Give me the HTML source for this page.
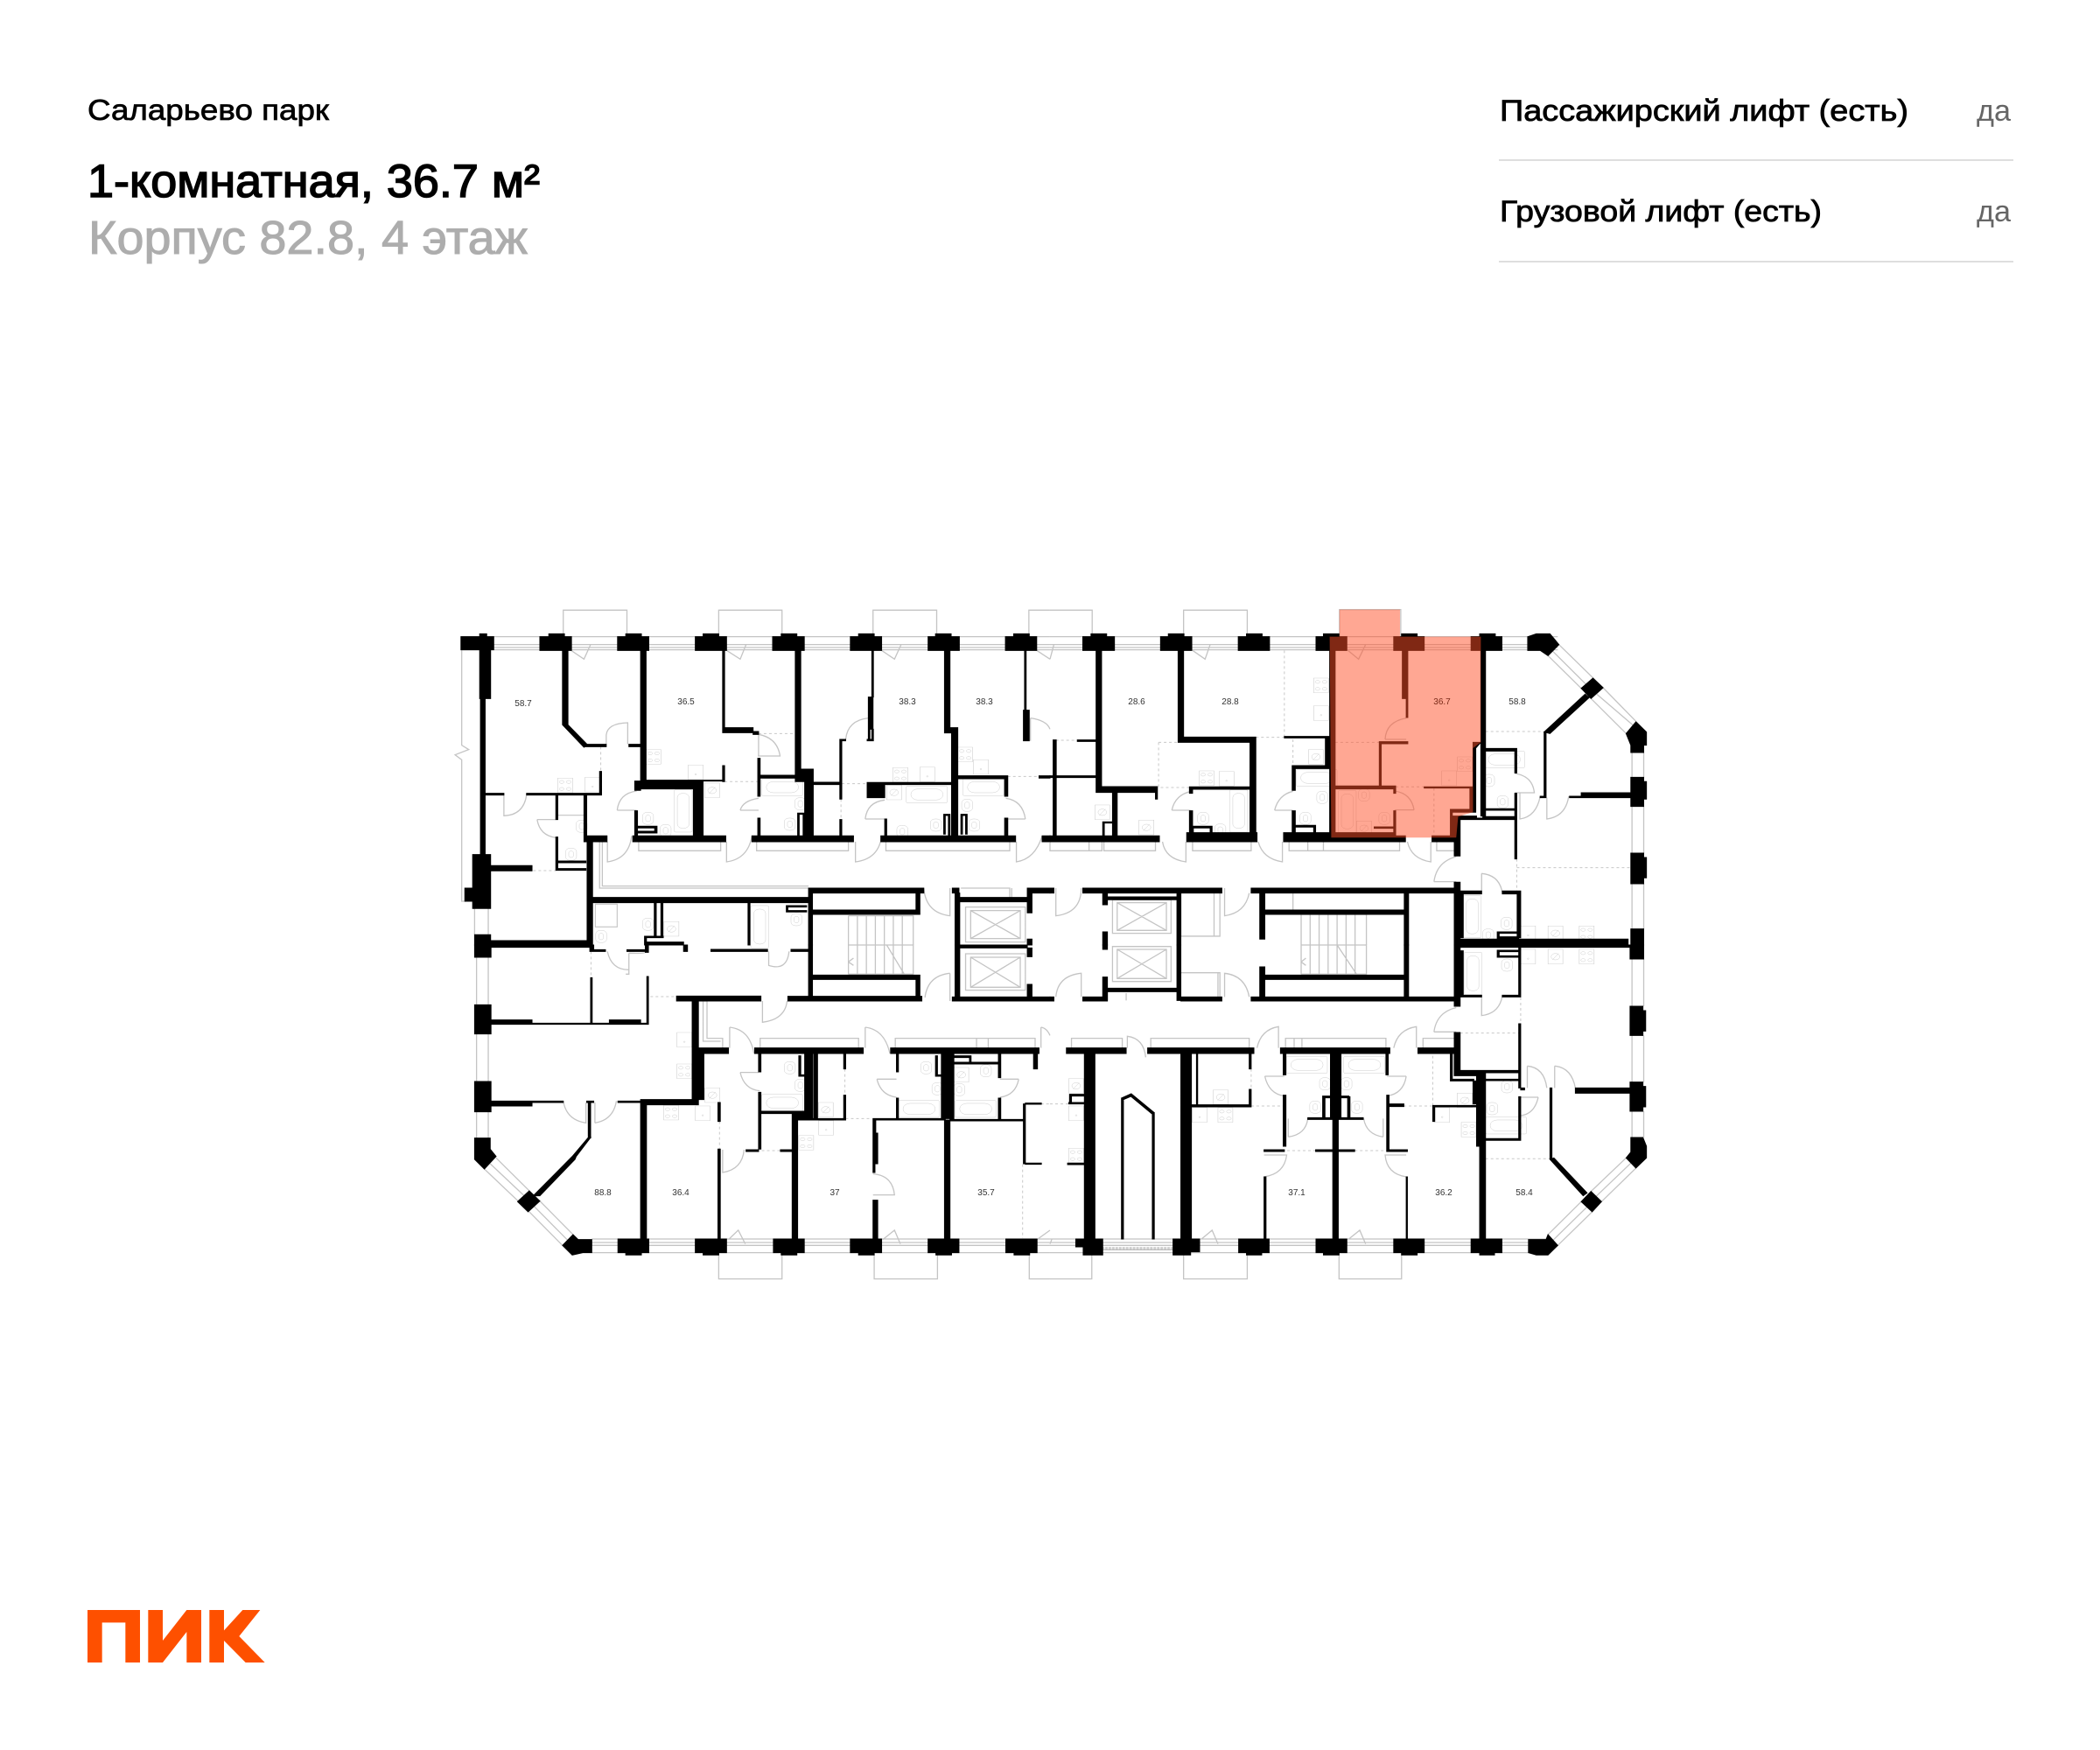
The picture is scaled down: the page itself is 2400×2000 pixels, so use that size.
<!DOCTYPE html>
<html lang="ru"><head><meta charset="utf-8"><title>Саларьево парк</title>
<style>
html,body{margin:0;padding:0;background:#fff}
svg{display:block}
.t{fill:none;stroke:#c4c4c4;stroke-width:1.3;vector-effect:non-scaling-stroke}
.t *{fill:none;stroke:#c4c4c4;stroke-width:1.1;vector-effect:non-scaling-stroke}
.d{fill:none;stroke:#c8c8c8;stroke-width:1;stroke-dasharray:3 3;vector-effect:non-scaling-stroke}
.w{fill:#000;stroke:#000;stroke-width:1;vector-effect:non-scaling-stroke}
.l{font:10px "Liberation Sans",sans-serif;fill:#333;text-anchor:middle}
</style></head><body>
<svg width="2400" height="2000" viewBox="0 0 2400 2000" xmlns="http://www.w3.org/2000/svg">
<defs>
<g id="st"><rect width="38" height="50"/><ellipse cx="10" cy="13" rx="6" ry="5"/><ellipse cx="28" cy="13" rx="6" ry="5"/><ellipse cx="10" cy="37" rx="6" ry="5"/><ellipse cx="28" cy="37" rx="6" ry="5"/></g>
<g id="sq"><rect width="38" height="50"/><circle cx="19" cy="32" r="2"/></g>
<g id="bh"><rect width="105" height="58" rx="4"/><rect x="12" y="10" width="82" height="38" rx="18"/></g>
<g id="bv"><rect width="46" height="145" rx="4"/><rect x="8" y="12" width="30" height="120" rx="14"/></g>
<g id="wc"><rect width="28" height="42" rx="12"/><rect x="8" y="10" width="12" height="22" rx="6"/></g>
<g id="n"><rect width="38" height="50"/><circle cx="19" cy="25" r="11"/><path d="M11 36L27 14"/></g>
</defs>
<rect width="2400" height="2000" fill="#fff"/>

<text x="100" y="137" font-family="Liberation Sans,sans-serif" font-size="33" fill="#000" stroke="#000" stroke-width=".7" textLength="276" lengthAdjust="spacingAndGlyphs">Саларьево парк</text>
<text x="100" y="225" font-family="Liberation Sans,sans-serif" font-size="53" fill="#000" stroke="#000" stroke-width="1.5" textLength="517" lengthAdjust="spacingAndGlyphs">1-комнатная, 36.7 м²</text>
<text x="101" y="290" font-family="Liberation Sans,sans-serif" font-size="54" fill="#adadad" stroke="#adadad" stroke-width="1" textLength="502" lengthAdjust="spacingAndGlyphs">Корпус 82.8, 4 этаж</text>
<text x="1714" y="138" font-family="Liberation Sans,sans-serif" font-size="34" fill="#000" stroke="#000" stroke-width=".8" textLength="467" lengthAdjust="spacingAndGlyphs">Пассажирский лифт (есть)</text>
<text x="1714" y="253" font-family="Liberation Sans,sans-serif" font-size="34" fill="#000" stroke="#000" stroke-width=".8" textLength="368" lengthAdjust="spacingAndGlyphs">Грузовой лифт (есть)</text>
<text x="2259" y="138" font-family="Liberation Sans,sans-serif" font-size="34" fill="#666" textLength="39" lengthAdjust="spacingAndGlyphs">да</text>
<text x="2259" y="253" font-family="Liberation Sans,sans-serif" font-size="34" fill="#666" textLength="39" lengthAdjust="spacingAndGlyphs">да</text>
<rect x="1713" y="182" width="588" height="2" fill="#dedede"/>
<rect x="1713" y="298" width="588" height="2" fill="#dedede"/>

<g transform="translate(80 1820) scale(.3333)" fill="#fe5000">
<path d="M60 60H240V240H190V103H110V240H60z"/>
<path d="M268 60H318V165L400 60H450V240H400V135L318 240H268z"/>
<path d="M478 60H528V130L592 60H652L580 150L668 240H602L528 165V240H478z"/>
</g>

<!-- top-left -->
<g transform="translate(500 680) scale(.4464 .3333)">
<path class="t" d="M60 143H1568M60 170H1568M60 180H1568M60 188H1568M322 143V52H485V143M720 143V52H882V143M1115 143V52H1278V143M1514 143V52H1568M62 188V515L80 530 45 548 62 565V1050H72M95 1075V1165M130 1075V1165
M342 190L375 220 392 170M740 190L775 220 790 170M1137 190L1170 220 1187 170M1534 190L1568 220
M432 512V480Q435 440 487 438V512M170 686V757Q220 755 228 686M460 738H510M460 738Q465 680 510 672M775 738H822M775 738Q782 705 822 697M820 552H877Q870 490 822 478V552M1103 422Q1050 430 1045 495M1095 768H1145M1095 768Q1100 710 1145 703M1505 768H1455M1505 768Q1498 705 1455 697M1518 422V500M1518 422Q1560 430 1568 460M255 770H303M255 770Q262 825 303 832M435 846V915Q490 905 497 826M740 846V915Q795 905 805 826M1070 846V915Q1130 905 1137 826M1482 846V915Q1530 905 1548 826M1312 1005V1100Q1250 1090 1245 1005
M515 846V877H725V846M817 846V877H1052V846M1148 846V877H1465V846M415 846V1005H950M422 846V998H950
M1052 1100H1218V1200M1052 1100V1200M1075 1100V1200M1098 1100V1200M1121 1100V1200M1144 1100V1200M1167 1100V1200M1190 1100V1200
M1352 1070H1505V1190H1352ZM1365 1082H1492V1178H1365ZM1365 1082L1492 1178M1492 1082L1365 1178M1340 1005H1465V1037M1470 1005V1037"/>
<g class="t">
<use href="#st" x="534" y="530"/><use href="#st" x="308" y="628"/><use href="#st" x="1166" y="592"/><use href="#st" x="1332" y="522"/>
<use href="#sq" x="642" y="583"/><use href="#sq" x="378" y="625"/><use href="#sq" x="1235" y="590"/><use href="#sq" x="1372" y="565"/>
<use href="#bv" x="606" y="668"/><use href="#bh" x="830" y="630"/><use href="#bh" x="1345" y="630"/><use href="#bh" x="1200" y="655"/><use href="#bv" x="802" y="1065"/>
<use href="#wc" x="525" y="745"/><use href="#wc" x="328" y="868"/><use href="#wc" x="888" y="765"/><use href="#wc" x="915" y="695"/><use href="#wc" x="1262" y="768"/><use href="#wc" x="1360" y="768"/><use href="#wc" x="1342" y="700"/><use href="#wc" x="355" y="772"/><use href="#wc" x="1176" y="790"/><use href="#wc" x="570" y="787"/><use href="#wc" x="905" y="1092"/><use href="#wc" x="525" y="1108"/><use href="#wc" x="405" y="1150"/>
<use href="#n" x="684" y="645"/><use href="#n" x="1150" y="652"/><use href="#n" x="580" y="1120"/><rect x="305" y="685" width="72" height="70"/><rect x="404" y="1060" width="56" height="78"/>
</g>
<path class="d" d="M418 520V605M735 640H820M822 475H915M245 945H303M1035 647H1100M1033 700V770M1460 622H1540"/>
<path class="w" d="M60 143H144V188H60zM108 133H126V143H108zM262 143H343V190H262zM285 133H325V143H285zM461 143H541V190H461zM482 133H522V143H482zM660 143H740V190H660zM680 133H720V143H680zM858 143H939V190H858zM880 133H920V143H880zM1057 143H1137V190H1057zM1078 133H1118V143H1078zM1256 143H1336V190H1256zM1275 133H1315V143H1275zM1454 143H1534V190H1454zM1475 133H1515V143H1475z
M108 188H136V355H108zM110 355H122V890H110zM90 890H136V1075H90zM70 1005H95V1050H70zM95 1165H136V1200H95zM136 1185H385V1200H136z
M320 190H334V445L385 515 375 522 320 445zM375 512H432V520H375zM490 512H520V520H490zM520 190H534V640H520zM505 638H670V665H505zM505 658H520V670H505zM655 640H670V826H655zM672 640H680V826H672zM500 826H738V846H500zM505 740H512V826H505zM510 793H562V799H510zM510 810H562V816H510zM556 793H562V816H556z
M730 190H735V455H730zM730 455H808V472H730zM808 468H822V478H808zM916 190H930V600H916zM916 597H962V640H916zM940 597H962V826H940zM820 560H826V690H820zM820 618H940V628H820zM820 765H826V826H820zM805 826H1065V846H805zM922 748H926V826H922zM936 748H940V826H936zM922 748H940V752H922z
M730 585H735V640H730zM534 635H735V638H534zM962 642H1030V650H962zM1030 495H1035V700H1030zM1030 770H1035V826H1030zM1030 495H1045V500H1030zM1112 190H1116V350H1112zM1103 350H1115V460H1103zM1103 460H1107V500H1103zM1112 460H1116V500H1112zM1100 495H1116V500H1100zM1100 645H1145V695H1100zM1100 643H1320V650H1100zM1145 768H1150V826H1145zM1135 826H1480V846H1135z
M1298 190H1312V455H1298zM1298 455H1332V473H1298zM1316 473H1332V826H1316zM1332 620H1460V630H1332zM1452 620H1460V690H1452zM1452 765H1460V826H1452zM1340 752H1356V756H1340zM1340 752H1344V820H1340zM1352 752H1356V820H1352zM1296 752H1300V820H1296zM1308 752H1312V826H1308zM1296 752H1312V756H1296zM1503 190H1507V395H1503zM1500 395H1515V500H1500zM1540 620H1568V628H1540zM1548 826H1568V846H1548z
M122 680H170V686H122zM228 680H420V686H228zM415 605H420V680H415zM303 686H308V770H303zM303 830H308V940H303zM303 912H380V918H303zM303 938H380V944H303zM375 686H382V830H375zM375 826H434V846H375zM383 846H397V1200H383zM136 928H242V946H136z
M397 1037H950V1055H397zM950 1005H960V1200H950zM950 1005H1245V1022H950zM1225 1022H1235V1095H1225zM960 1080H1235V1095H960zM555 1055H560V1170H555zM572 1055H577V1170H572zM530 1170H578V1175H530zM530 1175H535V1200H530zM530 1190H630V1200H530zM625 1190H630V1200H625zM795 1055H800V1200H795zM893 1065H945V1070H893zM893 1082H945V1087H893zM893 1065H897V1087H893z
M1318 1005H1335V1022H1318zM1325 1022H1337V1200H1325zM1335 1037H1510V1052H1335zM1510 1020H1522V1090H1510zM1510 1005H1568V1022H1510zM1510 1180H1522V1200H1510z"/>
</g>

<!-- top-right -->
<g transform="translate(1200 680) scale(.4464 .3333)">
<path class="t" d="M0 143H1300M0 170H1300M0 180H1300M0 188H1300M0 52H108V143M342 143V52H505V143M741 143V50H898V143
M1303 170L1416 318M1275 208L1360 320M1285 190L1390 330M1416 318L1527 470M1385 355L1475 475M1400 340L1500 455M1490 540V625M1520 540V625M1490 725V885M1520 725V885M1490 990V1145M1520 990V1145
M365 190L397 220 410 170M763 190L790 220 808 170M0 220L10 170M858 495H912M858 495Q860 435 912 422M932 737H882M932 737Q925 680 882 672M312 738H360M312 738Q320 685 362 673M575 738H622M575 738Q585 685 622 673M288 846Q295 905 348 915V846M533 846Q545 905 595 915V846M915 846Q925 905 975 915V846M983 983H1040M983 983Q990 915 1040 897M1105 955V1025M1105 955Q1150 960 1158 1020M1190 612Q1235 620 1240 678H1190M1203 680V768Q1245 760 1255 690M1272 695V768Q1320 760 1328 690M15 1005V1100Q80 1090 80 1005M447 1005V1100Q500 1090 510 1022
M0 846V877H100V846M100 877H133V846M138 846V877H270V846M365 846V877H515V846M612 846V877H895V846M660 846V877M700 846V877M990 846V877H1035
M335 1022V1170H435V1022M420 1022V1170M622 1022V1080
M643 1095H810V1200M643 1095V1200M666 1095V1200M689 1095V1200M712 1095V1200M735 1095V1200M758 1095V1200M781 1095V1200M160 1045H310V1160H160ZM172 1055H298V1150H172ZM172 1055L298 1150M298 1055L172 1150"/>
<g class="t">
<use href="#st" x="675" y="285"/><use href="#sq" x="675" y="380"/><use href="#sq" x="433" y="605"/><use href="#st" x="382" y="603"/><use href="#sq" x="1003" y="603"/><use href="#st" x="1043" y="555"/>
<use href="#bv" x="460" y="668"/><use href="#bv" x="738" y="670"/><use href="#bh" x="630" y="598"/><use href="#bv" x="1058" y="1030"/><use href="#bh" x="1110" y="535"/>
<use href="#n" x="662" y="530"/><use href="#n" x="115" y="720"/><use href="#n" x="228" y="772"/><use href="#n" x="785" y="775"/><use href="#n" x="1275" y="1135"/>
<use href="#wc" x="378" y="745"/><use href="#wc" x="640" y="745"/><use href="#wc" x="842" y="745"/><use href="#wc" x="683" y="673"/><use href="#wc" x="1145" y="688"/><use href="#wc" x="1155" y="1105"/><use href="#wc" x="1110" y="615"/><use href="#wc" x="422" y="785"/><use href="#wc" x="790" y="665"/><use href="#wc" x="1108" y="1145"/>
<use href="#sq" x="1205" y="1135"/><use href="#st" x="1355" y="1135"/>
</g>
<path class="d" d="M15 498H70M600 190V485M278 505V660H357M278 505H328M527 488H600M622 495V585M730 505H843M885 658H960M983 662V830M1115 468H1265M1195 935H1487M1195 905V1015"/>
<path class="w" d="M84 143H165V190H84zM105 133H145V143H105zM283 143H363V190H283zM303 133H343V143H303zM482 143H562V190H482zM503 133H543V143H503zM681 143H760V190H681zM700 133H740V143H700zM880 143H958V190H880zM900 133H940V143H900zM1078 143H1157V190H1078zM1100 133H1140V143H1100z
M1223 143L1245 133H1280L1303 170 1275 208 1255 190H1223zM1360 320L1390 285 1416 318 1385 355zM1500 435L1527 470V515H1520V540H1487V515L1475 475zM1487 625H1520V640H1527V700H1520V725H1487zM1487 885H1520V900H1527V970H1520V990H1487zM1487 1145H1520V1200H1487z
M118 190H132V660H118zM118 657H275V677H118zM160 677H172V826H160zM135 778H158V782H135zM135 778H139V826H135zM270 660H275V700H270zM0 620H118V626H0zM70 497H118V502H70zM8 497H16V826H8zM0 826H280V846H0z
M328 190H342V490H328zM328 487H527V505H328zM512 505H527V826H512zM357 658H512V666H357zM357 658H365V680H357zM357 740H365V815H357zM350 815H530V846H350zM362 793H415V799H362zM362 793H367V815H362zM410 793H415V815H410z
M600 485H715V490H600zM705 490H709V585H705zM711 490H715V585H711zM620 585H715V595H620zM620 595H628V670H620zM620 740H628V820H620zM625 790H680V796H625zM675 790H680V815H675zM598 815H720V846H598zM598 826H910V846H598zM978 826H1040V846H978z
M716 143H730V835H716zM902 190H916V355H902zM912 355H916V420H912zM843 503H916V510H843zM843 510H848V658H843zM730 655H885V665H730zM958 658H1085V662H958zM880 665H885V680H880zM880 740H885V830H880zM730 815H885V835H730zM1075 662H1082V745H1075zM1025 735H1080V745H1025zM1025 745H1030V825H1025zM1032 758H1045V830H1032zM1045 758H1092V768H1045zM1083 505H1103L1090 525H1083zM830 795H880V800H830zM1083 525H1090V745H1083z
M1103 143H1115V758H1103zM1105 526H1195V535H1105zM1105 535H1115V735H1105zM1190 526H1195V610H1190zM1108 733H1190V738H1108zM1108 760H1190V768H1108zM1190 680H1195V905H1190zM1035 768H1050V895H1035zM1050 765H1190V770H1050zM1035 985H1050V1200H1035zM1050 1020H1058V1175H1050zM1050 1015H1105V1025H1050zM1158 1015H1205V1025H1158zM1196 1015H1205V1175H1196zM1050 1180H1480V1200H1050zM1145 1155H1200V1160H1145zM1145 1172H1200V1177H1145zM1145 1155H1150V1177H1145z
M1265 472H1270V695H1265zM1265 470L1370 340 1380 352 1280 475zM1255 690H1270V695H1255zM1330 690H1360V695H1330zM1360 678H1487V695H1360z
M0 1005H10V1022H0zM84 1005H440V1022H84zM135 1022H147V1062H135zM325 1022H335V1200H325zM147 1035H325V1045H147zM515 1005H1040V1022H515zM537 1022H550V1180H537zM907 1022H918V1200H907zM550 1080H907V1095H550zM135 1155H147V1200H135z"/>
<path d="M716 143H741V50H896V143H1103V505L1083 525V745L1045 760 1040 832 720 832Z" fill="#ff5028" fill-opacity=".5"/>
</g>

<!-- bottom-left -->
<g transform="translate(500 1080) scale(.4464 .3333)">
<path class="t" d="M395 1008H1568M395 1020H1568M395 1030H1568M395 1055H1568M720 1055V1145H882V1055M1118 1055V1145H1280V1055M1515 1055V1145H1568M100 42V205M130 42V205M100 305V468M130 305V468M100 572V662M130 572V662M120 768L208 880M150 730L235 843M135 750L222 860M235 915L320 1030M262 878L347 993M248 897L333 1012
M435 22Q445 85 490 85M490 28V100H482M490 28Q530 30 532 25M832 192V265Q890 255 895 192M1312 97V192M1312 97Q1255 105 1248 180M748 282V353M748 282Q800 290 810 372M1095 282V353M1095 282Q1145 290 1158 372M1545 282V353M1545 282Q1560 285 1568 310M775 437H822M775 437Q785 495 825 500M1125 460H1175M1125 460Q1135 515 1175 522M1488 460H1440M1488 460Q1480 515 1440 522M322 535Q330 600 380 610V540M403 610V540M403 610Q450 600 458 535M730 702V780Q780 770 785 702M1115 785Q1165 790 1170 857H1115M745 1010L770 978 788 1025M1140 1010L1170 978 1185 1025M1535 1010L1568 978M848 22V70Q895 90 900 22
M826 353V320H1078V353M1172 353V320H1530V353M1380 320V353M1410 320V353M668 192H690V320H730V353M680 192V330H725
M1052 0H1218V100H1052M1052 0V100M1075 0V100M1098 0V100M1121 0V100M1144 0V100M1167 0V100M1190 0V100M1150 0L1195 100M1052 58L1065 45M1052 58L1065 70M1352 30H1505V155H1352ZM1365 42H1492V145H1365ZM1365 42L1492 145M1492 42L1365 145"/>
<g class="t">
<use href="#st" x="613" y="408"/><use href="#st" x="579" y="550"/><use href="#st" x="925" y="653"/><use href="#sq" x="613" y="300"/><use href="#sq" x="660" y="552"/><use href="#sq" x="976" y="602"/>
<use href="#bh" x="830" y="512"/><use href="#bh" x="1180" y="533"/><use href="#bh" x="1325" y="533"/>
<use href="#n" x="685" y="490"/><use href="#n" x="975" y="540"/><use href="#n" x="1322" y="420"/>
<use href="#wc" x="888" y="400"/><use href="#wc" x="915" y="460"/><use href="#wc" x="1237" y="400"/><use href="#wc" x="1266" y="472"/><use href="#wc" x="1322" y="475"/><use href="#wc" x="1390" y="410"/>
</g>
<path class="d" d="M393 22V112M545 177H612M722 605V700M830 705H878M1045 595H1112M1043 425V515M1545 545H1568M1498 752V1005"/>
<path class="w" d="M95 0H137V42H95zM137 0H390V8H137zM390 0H400V22H390zM400 16H430V22H400zM485 16H532V22H485zM532 0H540V25H532zM630 0H640V22H630zM700 15H845V22H700zM905 15H950V22H905zM950 0H960V185H950zM960 103H1235V118H960zM1225 118H1235V180H1225zM897 176H1240V192H897zM612 175H828V192H612zM652 192H668V530H652zM665 353H745V372H665zM520 530H668V548H520zM520 548H535V1010H520zM668 372H682V530H668z
M95 205H137V305H95zM137 257H242V272H137zM242 268H540V272H242zM392 112H396V268H392zM440 257H520V272H440zM536 108H540V272H536zM95 468H137V572H95zM137 535H242V552H137zM242 535H322V540H242zM382 535H400V540H382zM462 535H520V540H462zM386 540H392V662H386zM386 660H392L355 725 352 735 262 860 245 860 345 725z
M95 662H135V700L150 725 120 768 95 735zM205 880L235 843 262 878 232 915zM320 1030L347 993 360 1010H395V1055H372L345 1063z
M462 1008H541V1055H522V1063H482V1055H462zM660 1008H740V1055H720V1063H680V1055H660zM860 1008H939V1055H920V1063H880V1055H860zM1057 1008H1137V1055H1118V1063H1078V1055H1057zM1256 1008H1335V1055H1316V1063H1276V1055H1256zM1455 1008H1535V1055H1516V1063H1476V1055H1455z
M718 700H724V1008H718zM718 540H724V605H718zM908 600H922V1008H908zM908 595H1045V600H908zM1040 515H1045V600H1040zM1040 372H1045V425H1040zM963 372H973V595H963zM812 353H1090V372H812zM822 372H828V435H822zM822 505H828V700H822zM822 570H940V578H822zM908 578H960V598H908zM940 372H960V578H940zM925 380H930V450H925zM925 445H940V450H925zM790 702H822V708H790zM878 702H908V708H878z
M1115 595H1122V645H1115zM1115 645H1127V750H1115zM1115 750H1120V780H1115zM1115 875H1127V1008H1115zM1115 595H1300V600H1115zM1298 600H1312V1008H1298zM1290 372H1322V595H1290zM1312 598H1500V603H1312zM1160 353H1540V372H1160zM1175 372H1180V435H1175zM1175 525H1180V595H1175zM1275 380H1280V450H1275zM1275 445H1290V450H1275zM1436 372H1442V455H1436zM1436 525H1442V595H1436zM1526 372H1536V425H1526zM1322 380H1365V386H1322zM1322 402H1440V408H1322zM1362 380H1366V405H1362zM1500 545H1505V750H1500zM1505 542H1546V546H1505zM1505 748H1546V752H1505z
M1325 0H1337V190H1325zM1337 0H1510V10H1337zM1510 10H1522V40H1510zM1510 135H1522V180H1510zM1318 178H1568V192H1318z"/>
</g>

<!-- bottom-right -->
<g transform="translate(1200 1080) scale(.4464 .3333)">
<path class="t" d="M0 1008H1280M0 1020H1280M0 1030H1280M0 1055H1280M0 1145H107V1055M342 1055V1145H505V1055M740 1055V1145H900V1055M1490 48V210M1520 48V210M1490 310V470M1520 310V470M1490 570V660M1520 570V660M1300 1030L1388 915M1275 993L1360 880M1288 1012L1375 898M1412 880L1500 765M1385 845L1475 730M1398 862L1487 748
M15 178Q20 105 80 97V178M510 178Q500 105 447 97V178M198 353V313Q240 320 245 385M530 353Q540 290 585 280V353M880 353Q890 290 938 280V353M983 298H1040M983 298Q990 230 1040 215M1105 170V242Q1150 235 1158 175M550 450H600M550 450Q560 510 600 518M912 450H862M912 450Q905 510 862 518M610 658V595M610 658Q655 650 660 595M853 658V595M853 658Q810 650 803 595M548 795Q600 785 606 720H548M912 795Q862 785 858 720H912M1250 522H1205M1250 522Q1240 580 1205 585M1222 415V490M1222 415Q1265 420 1272 490M1292 415V490M1292 415Q1335 420 1345 490M388 1008L415 978 430 1025M765 1008L793 978 808 1025M0 1025L5 1008
M55 353V320H185V353M258 353V320H510V353M603 353V320H860V353M625 320V353M645 320V353M955 353V320H1035M335 95H435V178M430 95V178M147 160V190M195 165V190
M643 0H810V100H643M643 0V100M666 0V100M689 0V100M712 0V100M735 0V100M758 0V100M781 0V100M735 0L785 100M643 58L655 45M643 58L655 70M160 5H310V125H160ZM172 15H298V115H172ZM172 15L298 115M298 15L172 115
M135 1045H315M135 1030H315M135 1055H315"/>
<path d="M135 1040H315" fill="none" stroke="#999" stroke-width="10" stroke-dasharray="1 2"/>
<g class="t">
<use href="#st" x="48" y="697"/><use href="#n" x="48" y="458"/><use href="#sq" x="48" y="552"/><use href="#n" x="418" y="497"/><use href="#sq" x="364" y="558"/><use href="#st" x="430" y="558"/><use href="#sq" x="985" y="558"/><use href="#st" x="1053" y="608"/><use href="#n" x="1043" y="508"/>
<use href="#bh" x="605" y="382"/><use href="#bh" x="752" y="382"/><use href="#bv" x="1060" y="25"/><use href="#bh" x="1115" y="590"/>
<use href="#wc" x="690" y="455"/><use href="#wc" x="745" y="455"/><use href="#wc" x="665" y="535"/><use href="#wc" x="772" y="535"/><use href="#wc" x="1156" y="465"/><use href="#wc" x="1118" y="540"/><use href="#wc" x="1156" y="48"/>
<use href="#sq" x="1205" y="15"/><use href="#n" x="1275" y="15"/><use href="#st" x="1355" y="15"/>
</g>
<path class="d" d="M0 545H48M515 425V495M515 552H597M980 380V550M905 552H980M607 705H680M780 705H862M1205 180V270M1050 302H1200M1115 733H1280"/>
<path class="w" d="M135 0H147V15H135zM135 110H147V180H135zM147 148H325V160H147zM325 0H335V190H325zM84 178H147V192H84zM0 178H10V192H0zM335 178H440V192H335zM537 75H550V178H537zM550 103H907V118H550zM907 0H918V178H907zM515 178H1040V192H515zM1035 0H1050V210H1035zM1050 20H1058V170H1050zM1050 172H1105V178H1050zM1158 172H1200V178H1158zM1200 10H1205V178H1200zM1050 0H1490V8H1050zM1145 18H1200V23H1145zM1145 37H1200V42H1145zM1145 18H1150V42H1145z
M1485 0H1520V48H1485zM1485 210H1518V225H1525V295H1518V310H1485zM1485 470H1518V485H1525V555H1518V570H1485zM1487 660H1518L1527 690V730L1500 765 1475 730 1487 710z
M1360 880L1385 845 1412 880 1388 915zM1280 735L1290 730 1375 850 1365 860zM1280 490H1285V735H1280zM1205 490H1215V497H1205zM1345 490H1485V508H1345zM1225 1010H1270L1275 993 1300 1030 1275 1063H1245L1225 1055z
M1200 270H1205V490H1200zM1200 520H1205V670H1200zM1115 430H1205V438H1115zM1115 460H1200V465H1115zM1115 664H1205V670H1115zM1092 435H1115V690H1092zM1100 690H1115V1008H1100zM1035 300H1050V430H1035zM1035 430H1115V448H1035zM1025 372H1030V465H1025zM1025 460H1085V466H1025zM1083 466H1090V545H1083zM980 550H1090V555H980zM980 555H985V605H980zM942 353H1035V372H942z
M483 1008H561V1055H542V1063H503V1055H483zM681 1008H760V1055H740V1063H700V1055H681zM880 1008H958V1055H940V1063H900V1055H880zM1078 1008H1157V1055H1138V1063H1100V1055H1078zM66 1008H135V1063H85V1035H66zM315 1008H383V1052H360V1063H315z
M88 372H115V1008H88zM335 372H362V1008H335zM42 353H195V372H42zM250 353H522V372H250zM50 512H88V518H50zM50 518H55V540H50zM48 540H88V545H48zM45 748H88V753H45zM375 372H378V550H375zM362 548H515V555H362zM510 372H515V425H510zM510 495H515V550H510z
M183 525H188V1008H183zM262 578H267V1008H262zM183 525L208 510 267 575 262 580 207 519 188 530zM590 353H870V372H590zM597 372H604V445H597zM597 515H604V690H597zM718 372H745V595H718zM548 702H600V708H548zM548 795H553V1008H548zM724 600H738V1008H724zM680 702H780V708H680zM660 592H802V598H660zM698 520H704V592H698zM698 518H765V524H698zM762 520H768V592H762zM860 372H866V445H860zM862 515H868V700H862zM862 702H915V708H862zM864 545H906V554H864zM912 795H915V1008H912z"/>
</g>

<g class="l">
<text x="598" y="807">58.7</text><text x="784" y="805">36.5</text><text x="1037" y="805">38.3</text><text x="1125" y="805">38.3</text>
<text x="1299" y="805">28.6</text><text x="1406" y="805">28.8</text><text x="1648" y="805" fill="#7a2a18">36.7</text><text x="1734" y="805">58.8</text>
<text x="689" y="1366">88.8</text><text x="778" y="1366">36.4</text><text x="954" y="1366">37</text><text x="1127" y="1366">35.7</text>
<text x="1482" y="1366">37.1</text><text x="1650" y="1366">36.2</text><text x="1742" y="1366">58.4</text>
</g>
</svg>
</body></html>
